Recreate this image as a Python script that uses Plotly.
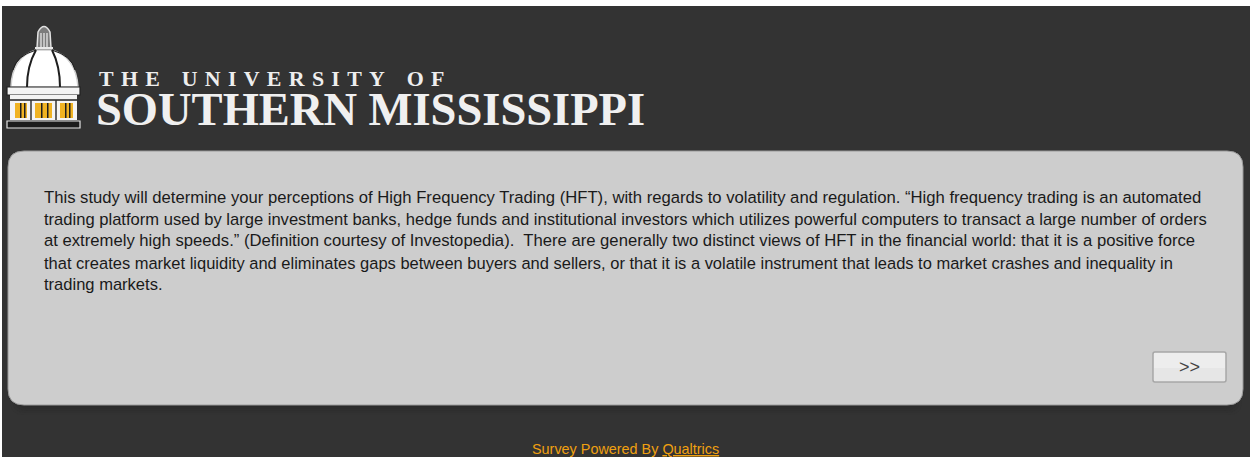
import plotly.graph_objects as go

WIDTH, HEIGHT = 1256, 457

BODY_LINES = [
    "This study will determine your perceptions of High Frequency Trading (HFT), with regards to volatility and regulation. “High frequency trading is an automated",
    "trading platform used by large investment banks, hedge funds and institutional investors which utilizes powerful computers to transact a large number of orders",
    "at extremely high speeds.” (Definition courtesy of Investopedia).  There are generally two distinct views of HFT in the financial world: that it is a positive force",
    "that creates market liquidity and eliminates gaps between buyers and sellers, or that it is a volatile instrument that leads to market crashes and inequality in",
    "trading markets.",
]
# the original is hinted Arial, so each line needs a slightly different size to end at the same place
BODY_SIZES = [16.67, 16.57, 16.66, 16.49, 16.55]
LOGO_TOP = "T\u2004H\u2004E\u2003U\u2004N\u2004I\u2004V\u2004E\u2004R\u2004S\u2004I\u2004T\u2004Y\u2003O\u2004F"
LOGO_BOTTOM = "<b>SOUTHERN MISSISSIPPI</b>"
FOOTER = "Survey Powered By <u>Qualtrics</u>"
BUTTON = ">>"

DARK = "#333333"
PANEL = "#cdcdcd"
GOLD = "#f0a010"


def rounded_rect(x0, y0, x1, y1, r):
    return (
        f"M{x0+r},{y0} L{x1-r},{y0} Q{x1},{y0} {x1},{y0+r} L{x1},{y1-r} "
        f"Q{x1},{y1} {x1-r},{y1} L{x0+r},{y1} Q{x0},{y1} {x0},{y1-r} "
        f"L{x0},{y0+r} Q{x0},{y0} {x0+r},{y0} Z"
    )


fig = go.Figure()
shapes = []


def add_rect(x0, y0, x1, y1, fill, line=None, lw=0):
    shapes.append(dict(type="rect", x0=x0, y0=y0, x1=x1, y1=y1, fillcolor=fill,
                       line=dict(color=line or fill, width=lw)))


def add_path(path, fill="rgba(0,0,0,0)", line=None, lw=0):
    shapes.append(dict(type="path", path=path, fillcolor=fill,
                       line=dict(color=line or "rgba(0,0,0,0)", width=lw)))


# page background, white strips left, top and right
add_rect(2, 6, 1250, HEIGHT, DARK)

# soft shadow under the panel
for i, alpha in enumerate([0.06, 0.07, 0.08, 0.09, 0.10]):
    grow = 10 - 2 * i
    add_path(rounded_rect(20 - grow, 160, 1232 + grow, 405 + grow, 14), f"rgba(30,30,30,{alpha})")

# panel and button
add_path(rounded_rect(8, 151, 1243, 405, 16), PANEL, "#9a9a9a", 1)
add_path(rounded_rect(1153, 352, 1226, 382, 2), "#ededed", "#a6a6a6", 1.5)
add_rect(1154, 368, 1225, 381, "#e6e6e6")

# dome logo: cupola
add_path("M37,48 L38,32 Q44,21 50,32 L51,48 Z", "#7c7c7c", "#e2e2e2", 1.5)
add_path("M41,33 L41,47 M44,33 L44,47 M47,33 L47,47", line="#eeeeee", lw=1.2)
add_path("M35,48 L53,48", line="#e8e8e8", lw=2)
# dome and ribs
add_path("M11,87 Q12,57 36,50 L52,50 Q76,57 78,87 Z", "#ffffff", "#cfcfcf", 1.5)
add_path("M36,50 Q27,66 27,87 M52,50 Q60,66 60,87", line="#1e1e1e", lw=2)
add_path("M13,70 Q16,56 36,50 M75,70 Q72,56 52,50", line="#1e1e1e", lw=1)
# drum
add_path("M7,87 L80,87 L80,95 L7,95 Z", "#f4f4f4", "#222222", 1.2)
add_path("M10,95 L77,95 L77,120 L10,120 Z", "#f4f4f4")
add_path("M10,100 L77,100", line="#222222", lw=1.5)
for x0, x1 in [(15, 27), (35, 52), (60, 73)]:
    add_rect(x0, 103, x1, 118, "#f0b323")
for x0 in [20, 24, 41, 47, 65, 69]:
    add_rect(x0, 103, x0 + 1.5, 118, "#1e1e1e")
add_path("M31,100 L31,120 M56,100 L56,120", line="#333333", lw=1.5)
# base
add_path("M7,121 L80,121 L80,128 L7,128 Z", "#1c1c1c", "#e5e5e5", 1.2)

annotations = [
    dict(x=97, y=78, text=LOGO_TOP, font=dict(family="Liberation Serif", size=21.9, color="#eeeeee", weight=700)),
    dict(x=94, y=109, text=LOGO_BOTTOM, font=dict(family="Liberation Serif", size=46.5, color="#f0f0f0")),
    dict(x=1189, y=367, text=BUTTON, xanchor="center",
         font=dict(family="Liberation Sans", size=18, color="#444444")),
    dict(x=625, y=449, text=FOOTER, xanchor="center",
         font=dict(family="Liberation Sans", size=14.4, color=GOLD)),
]
for i, (line, size) in enumerate(zip(BODY_LINES, BODY_SIZES)):
    annotations.append(dict(x=42, y=197.5 + i * 21.7, text=line,
                            font=dict(family="Liberation Sans", size=size, color="#1a1a1a")))

for a in annotations:
    a.setdefault("xanchor", "left")
    a.update(xref="x", yref="y", yanchor="middle", showarrow=False, align="left")

fig.update_layout(
    width=WIDTH, height=HEIGHT, margin=dict(l=0, r=0, t=0, b=0),
    paper_bgcolor="#ffffff", plot_bgcolor="#ffffff", showlegend=False,
    xaxis=dict(range=[0, WIDTH], visible=False, fixedrange=True),
    yaxis=dict(range=[HEIGHT, 0], visible=False, fixedrange=True),
    shapes=shapes, annotations=annotations,
)

# drop the browser's default body margin so the page sits at the window corner
fig.write_html("out.html", config=dict(displayModeBar=False),
               post_script="document.body.style.margin='0';document.documentElement.style.overflow='hidden';")
